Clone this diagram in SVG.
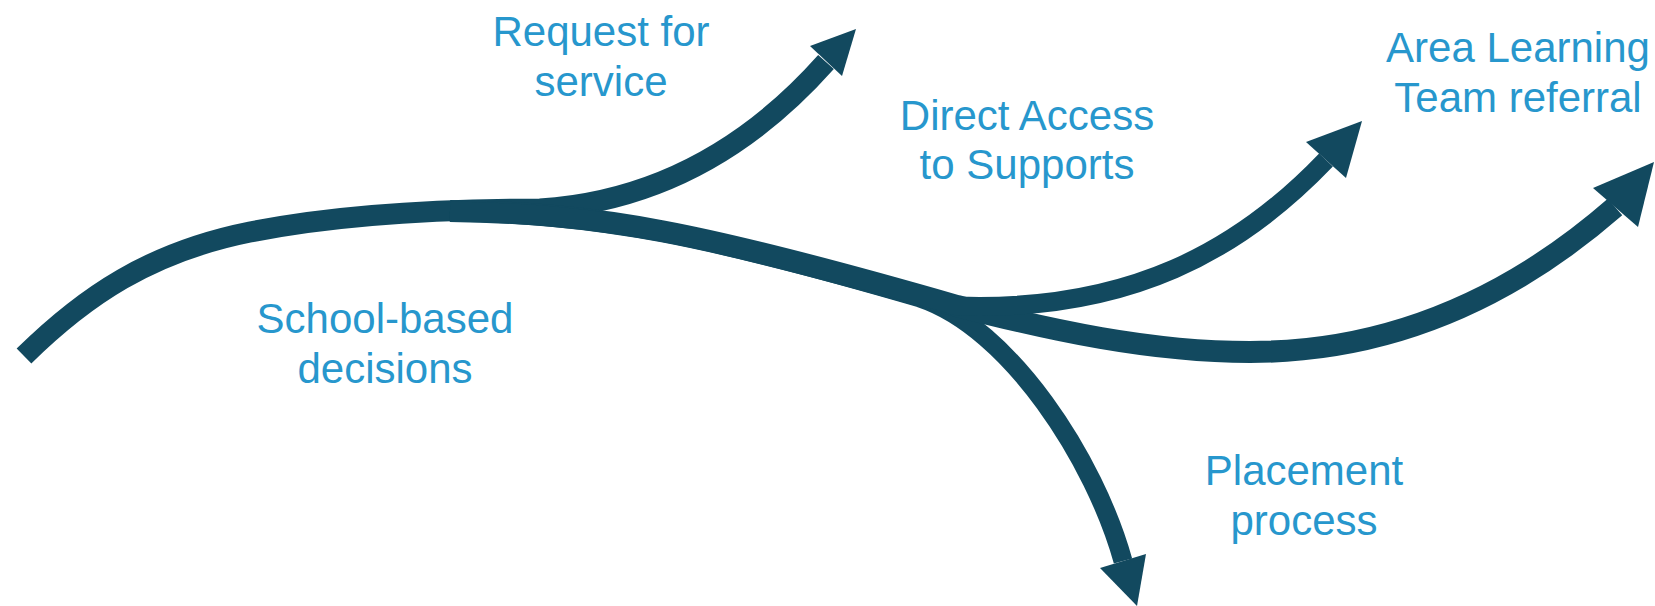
<svg xmlns="http://www.w3.org/2000/svg" width="1655" height="606" viewBox="0 0 1655 606">
  <style>
    .flow { fill: none; stroke: #12495F; stroke-linecap: butt; stroke-linejoin: round; }
    .head { fill: #12495F; stroke: none; }
    .label { font-family: "Liberation Sans", Arial, sans-serif; font-size: 42px; fill: #2797CD; text-anchor: middle; }
  </style>
  <rect width="1655" height="606" fill="#FFFFFF"/>
  <g id="connectors">
    <path class="flow" stroke-width="21" d="M24,356 C85,296 150,252 250,232 C330,216 430,209 540,209 C680,200 770,125 826,62"/>
    <path class="flow" stroke-width="19" d="M450,212 C600,214 700,234 920,298 C1010,328 1095,460 1123,561"/>
    <path class="flow" stroke-width="22" d="M450,211 C600,213 700,232 957,306 C1050,330 1150,352 1250,352 C1400,352 1520,290 1615,207"/>
    <path class="flow" stroke-width="19" d="M450,211 C600,213 700,232 957,306 C1130,312 1240,250 1326,160"/>
    <polygon class="head" points="856,29 810,46 842,76"/>
    <polygon class="head" points="1362,121 1306,142 1346,178"/>
    <polygon class="head" points="1654,162 1593,188 1638,227"/>
    <polygon class="head" points="1137,606 1100,568 1146,554"/>
  </g>
  <g id="node-school">
    <text class="label" x="385" y="333">School-based</text>
    <text class="label" x="385" y="383">decisions</text>
  </g>
  <g id="node-request">
    <text class="label" x="601" y="46">Request for</text>
    <text class="label" x="601" y="96">service</text>
  </g>
  <g id="node-direct">
    <text class="label" x="1027" y="130">Direct Access</text>
    <text class="label" x="1027" y="179">to Supports</text>
  </g>
  <g id="node-area">
    <text class="label" x="1518" y="62">Area Learning</text>
    <text class="label" x="1518" y="112">Team referral</text>
  </g>
  <g id="node-placement">
    <text class="label" x="1304" y="485">Placement</text>
    <text class="label" x="1304" y="535">process</text>
  </g>
</svg>
